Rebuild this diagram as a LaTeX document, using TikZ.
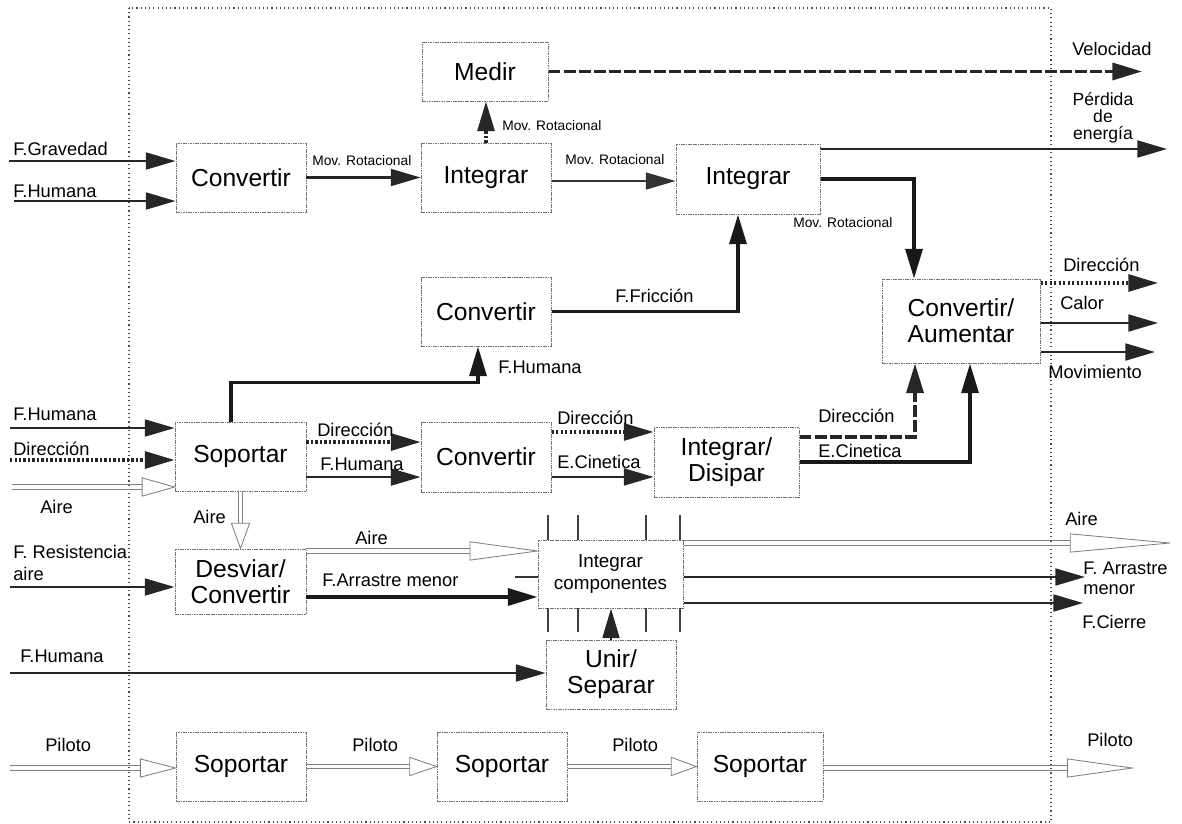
\documentclass[tikz,border=0pt]{standalone}
\usepackage{fontspec}
\setmainfont{Liberation Sans}
\usetikzlibrary{arrows.meta,calc,decorations.markings}
\tikzset{
 box/.style={draw=black!55, line width=0.7pt, dash pattern=on 1.2pt off 0.5pt, align=center, inner sep=0pt, font=\fontsize{17.5}{18.5}\selectfont},
 lbl/.style={font=\fontsize{13}{15}\selectfont, inner sep=0pt, anchor=west},
 sml/.style={font=\fontsize{9.8}{11}\selectfont, inner sep=0pt, anchor=west},
 bigtip/.style={-{Triangle[length=21pt,width=12pt]}},
 flow/.style={draw=black!85, line width=1.5pt, bigtip},
 thin flow/.style={draw=black!80, line width=1.1pt, bigtip},
 thick flow/.style={draw=black!90, line width=2.5pt, bigtip},
 dot flow/.style={draw=black!85, line width=2.2pt, dash pattern=on 1.6pt off 1.6pt, bigtip},
 dash flow/.style={draw=black!85, line width=2.6pt, dash pattern=on 8.5pt off 2.2pt, bigtip},
 hhead/.style={postaction={decorate, decoration={markings, mark=at position 1 with {\filldraw[fill=white, draw=black!50, line width=0.6pt] (-#1,6.5pt) -- (0pt,0pt) -- (-#1,-6.5pt) -- cycle;}}}},
 hollow/.style={draw=none,
   preaction={draw=black!50, line width=0.6pt, shorten >=#1, transform canvas={yshift=1.5pt}},
   preaction={draw=black!50, line width=0.6pt, shorten >=#1, transform canvas={yshift=-1.5pt}},
   hhead=#1},
 vhollow/.style={draw=none,
   preaction={draw=black!50, line width=0.6pt, shorten >=#1, transform canvas={xshift=1.5pt}},
   preaction={draw=black!50, line width=0.6pt, shorten >=#1, transform canvas={xshift=-1.5pt}},
   hhead=#1},
 tick/.style={draw=black!75, line width=0.9pt},
}
\newcommand\mybox[7][]{\node[box,#1, minimum width={(#5-#3)*0.025cm}, minimum height={(#6-#4)*0.025cm}] (#2) at ({(#3+#5)/2},{(#4+#6)/2}) {#7};}
\begin{document}
\begin{tikzpicture}[x=0.025cm, y=-0.025cm]
\useasboundingbox (0,0) rectangle (1182,823);
\draw[black!70, line width=0.8pt, dash pattern=on 0.8pt off 2.2pt] (129,8) rectangle (1051,822);

% boxes
\mybox{conv1}{176}{143}{306}{212}{Convertir}
\mybox{int1}{421}{143}{551}{212}{Integrar}
\mybox{medir}{422}{42}{548}{101}{Medir}
\mybox{int2}{676}{144}{820}{214}{Integrar}
\mybox{convaum}{882}{279}{1040}{363}{Convertir/\\Aumentar}
\mybox{conv2}{421}{277}{551}{346}{Convertir}
\mybox{sop1}{175}{422}{306}{491}{Soportar}
\mybox{conv3}{421}{422}{551}{492}{Convertir}
\mybox{intdis}{654}{427}{799}{497}{Integrar/\\Disipar}
\mybox{desv}{175}{549}{306}{614}{Desviar/\\Convertir}
\mybox[font=\fontsize{13.4}{15}\selectfont]{intcomp}{538}{540}{683}{608}{Integrar\\componentes}
\mybox{unir}{546}{640}{676}{709}{Unir/\\Separar}
\mybox{sopA}{176}{732}{306}{801}{Soportar}
\mybox{sopB}{437}{732}{567}{801}{Soportar}
\mybox{sopC}{697}{732}{823}{801}{Soportar}

% free ends
\coordinate (gin) at (9,161);
\coordinate (hin) at (14,201);
\coordinate (velout) at (1142,72);
\coordinate (perdout) at (1167,149);
\coordinate (dirout) at (1158,283);
\coordinate (calout) at (1158,323);
\coordinate (movout) at (1155,352);
\coordinate (h2in) at (10,428);
\coordinate (d2in) at (10,460);
\coordinate (ain) at (12,487);
\coordinate (rin) at (10,587);
\coordinate (stubl) at (515,577);
\coordinate (aout) at (1170,543);
\coordinate (farrout) at (1085,577);
\coordinate (fcout) at (1083,603);
\coordinate (h3in) at (10,673);
\coordinate (pin) at (10,768);
\coordinate (pout) at (1132,768);

% connectors
\draw[flow] (gin) -- (conv1.west |- gin);
\draw[flow] (hin) -- (conv1.west |- hin);
\draw[flow] (conv1.east) -- (int1.west);
\draw[thin flow] ([yshift=-2.5pt]int1.east) -- ([yshift=-2.5pt]int1.east -| int2.west);
\draw[dot flow] (int1.north) -- (int1.north |- medir.south);
\draw[dash flow] (medir.east) -- (medir.east -| velout);
\draw[flow] (int2.east |- perdout) -- (perdout);
\draw[thick flow] (int2.east) -| ($(convaum.north)+(-47,0)$);
\draw[thick flow] (conv2.east) -| ($(int2.south)+(-10,0)$);
\draw[thick flow] ($(sop1.north)+(-9.5,0)$) -- ++(0,-39) -| ($(conv2.south)+(-8,0)$);
\draw[dot flow] (convaum.east |- dirout) -- (dirout);
\draw[flow] (convaum.east |- calout) -- (calout);
\draw[flow] (convaum.east |- movout) -- (movout);
\draw[flow] (h2in) -- (sop1.west |- h2in);
\draw[dot flow] (d2in) -- (sop1.west |- d2in);
\draw[hollow=23pt] (ain) -- (sop1.west |- ain);
\draw[dot flow] ([yshift=10.3pt]sop1.east) -- ([yshift=10.3pt]sop1.east -| conv3.west);
\draw[flow] ([yshift=-14.6pt]sop1.east) -- ([yshift=-14.6pt]sop1.east -| conv3.west);
\draw[dot flow] ([yshift=17.8pt]conv3.east) -- ([yshift=17.8pt]conv3.east -| intdis.west);
\draw[flow] ([yshift=-14.2pt]conv3.east) -- ([yshift=-14.2pt]conv3.east -| intdis.west);
\draw[dash flow] ([yshift=17.8pt]intdis.east) -| ($(convaum.south)+(-46,0)$);
\draw[thick flow] (intdis.east) -| ($(convaum.south)+(9,0)$);
\draw[vhollow=18pt] (sop1.south) -- (sop1.south |- desv.north);
\draw[flow] (rin) -- (desv.west |- rin);
\draw[hollow=48pt] ([yshift=21.7pt]desv.east) -- ([yshift=21.7pt]desv.east -| intcomp.west);
\draw[thick flow] ([yshift=-11pt]desv.east) -- ([yshift=-11pt]desv.east -| intcomp.west);
\draw[draw=black!80, line width=1pt] (stubl) -- (intcomp.west |- stubl);
\foreach \tx in {548,578,646,680} {
  \draw[tick] (\tx,515) -- (\tx,540);
  \draw[tick] (\tx,608) -- (\tx,632);
}
\draw[hollow=71pt] (intcomp.east |- aout) -- (aout);
\draw[flow] (intcomp.east |- farrout) -- (farrout);
\draw[flow] (intcomp.east |- fcout) -- (fcout);
\draw[flow] (h3in) -- (unir.west |- h3in);
\draw[flow] (unir.north) -- (unir.north |- intcomp.south);
\draw[hollow=25pt] (pin) -- (sopA.west |- pin);
\draw[hollow=19pt] (sopA.east) -- (sopB.west);
\draw[hollow=18pt] (sopB.east) -- (sopC.west);
\draw[hollow=46pt] (sopC.east |- pout) -- (pout);

% labels
\node[lbl] (lgrav) at (13,149) {F.Gravedad};
\node[lbl] (lhum1) at (13,191) {F.Humana};
\node[sml] (lmr1) at (312,161) {Mov. Rotacional};
\node[sml] (lmr2) at (565,160) {Mov. Rotacional};
\node[sml] (lmr3) at (502,126) {Mov. Rotacional};
\node[sml] (lmr4) at (793,223) {Mov. Rotacional};
\node[lbl] (lvel) at (1072,49) {Velocidad};
\node[lbl, anchor=center, align=center, font=\fontsize{12.5}{12}\selectfont] (lperd) at (1103,118) {Pérdida\\de\\energía};
\node[lbl] (lfric) at (615,296) {F.Fricción};
\node[lbl] (lhum2) at (498,367) {F.Humana};
\node[lbl] (ldir1) at (1063,265) {Dirección};
\node[lbl] (lcal) at (1060,303) {Calor};
\node[lbl] (lmov) at (1048,372) {Movimiento};
\node[lbl] (lhum3) at (13,414) {F.Humana};
\node[lbl] (ldir2) at (13,449) {Dirección};
\node[lbl] (laire1) at (40,507) {Aire};
\node[lbl] (ldir3) at (317,430) {Dirección};
\node[lbl] (lhum4) at (320,464) {F.Humana};
\node[lbl] (ldir4) at (557,418) {Dirección};
\node[lbl] (lcin1) at (557,462) {E.Cinetica};
\node[lbl] (ldir5) at (818,416) {Dirección};
\node[lbl] (lcin2) at (818,451) {E.Cinetica};
\node[lbl] (laire2) at (193,517) {Aire};
\node[lbl, align=left, font=\fontsize{13}{16}\selectfont] (lres) at (13,563) {F. Resistencia\\aire};
\node[lbl] (laire3) at (355,538) {Aire};
\node[lbl] (larr1) at (322,580) {F.Arrastre menor};
\node[lbl] (laire4) at (1065,519) {Aire};
\node[lbl, align=left, font=\fontsize{13}{14}\selectfont] (larr2) at (1083,578) {F. Arrastre\\menor};
\node[lbl] (lcie) at (1082,622) {F.Cierre};
\node[lbl] (lhum5) at (20,656) {F.Humana};
\node[lbl] (lpil1) at (45,745) {Piloto};
\node[lbl] (lpil2) at (352,745) {Piloto};
\node[lbl] (lpil3) at (612,745) {Piloto};
\node[lbl] (lpil4) at (1087,740) {Piloto};
\end{tikzpicture}
\end{document}
